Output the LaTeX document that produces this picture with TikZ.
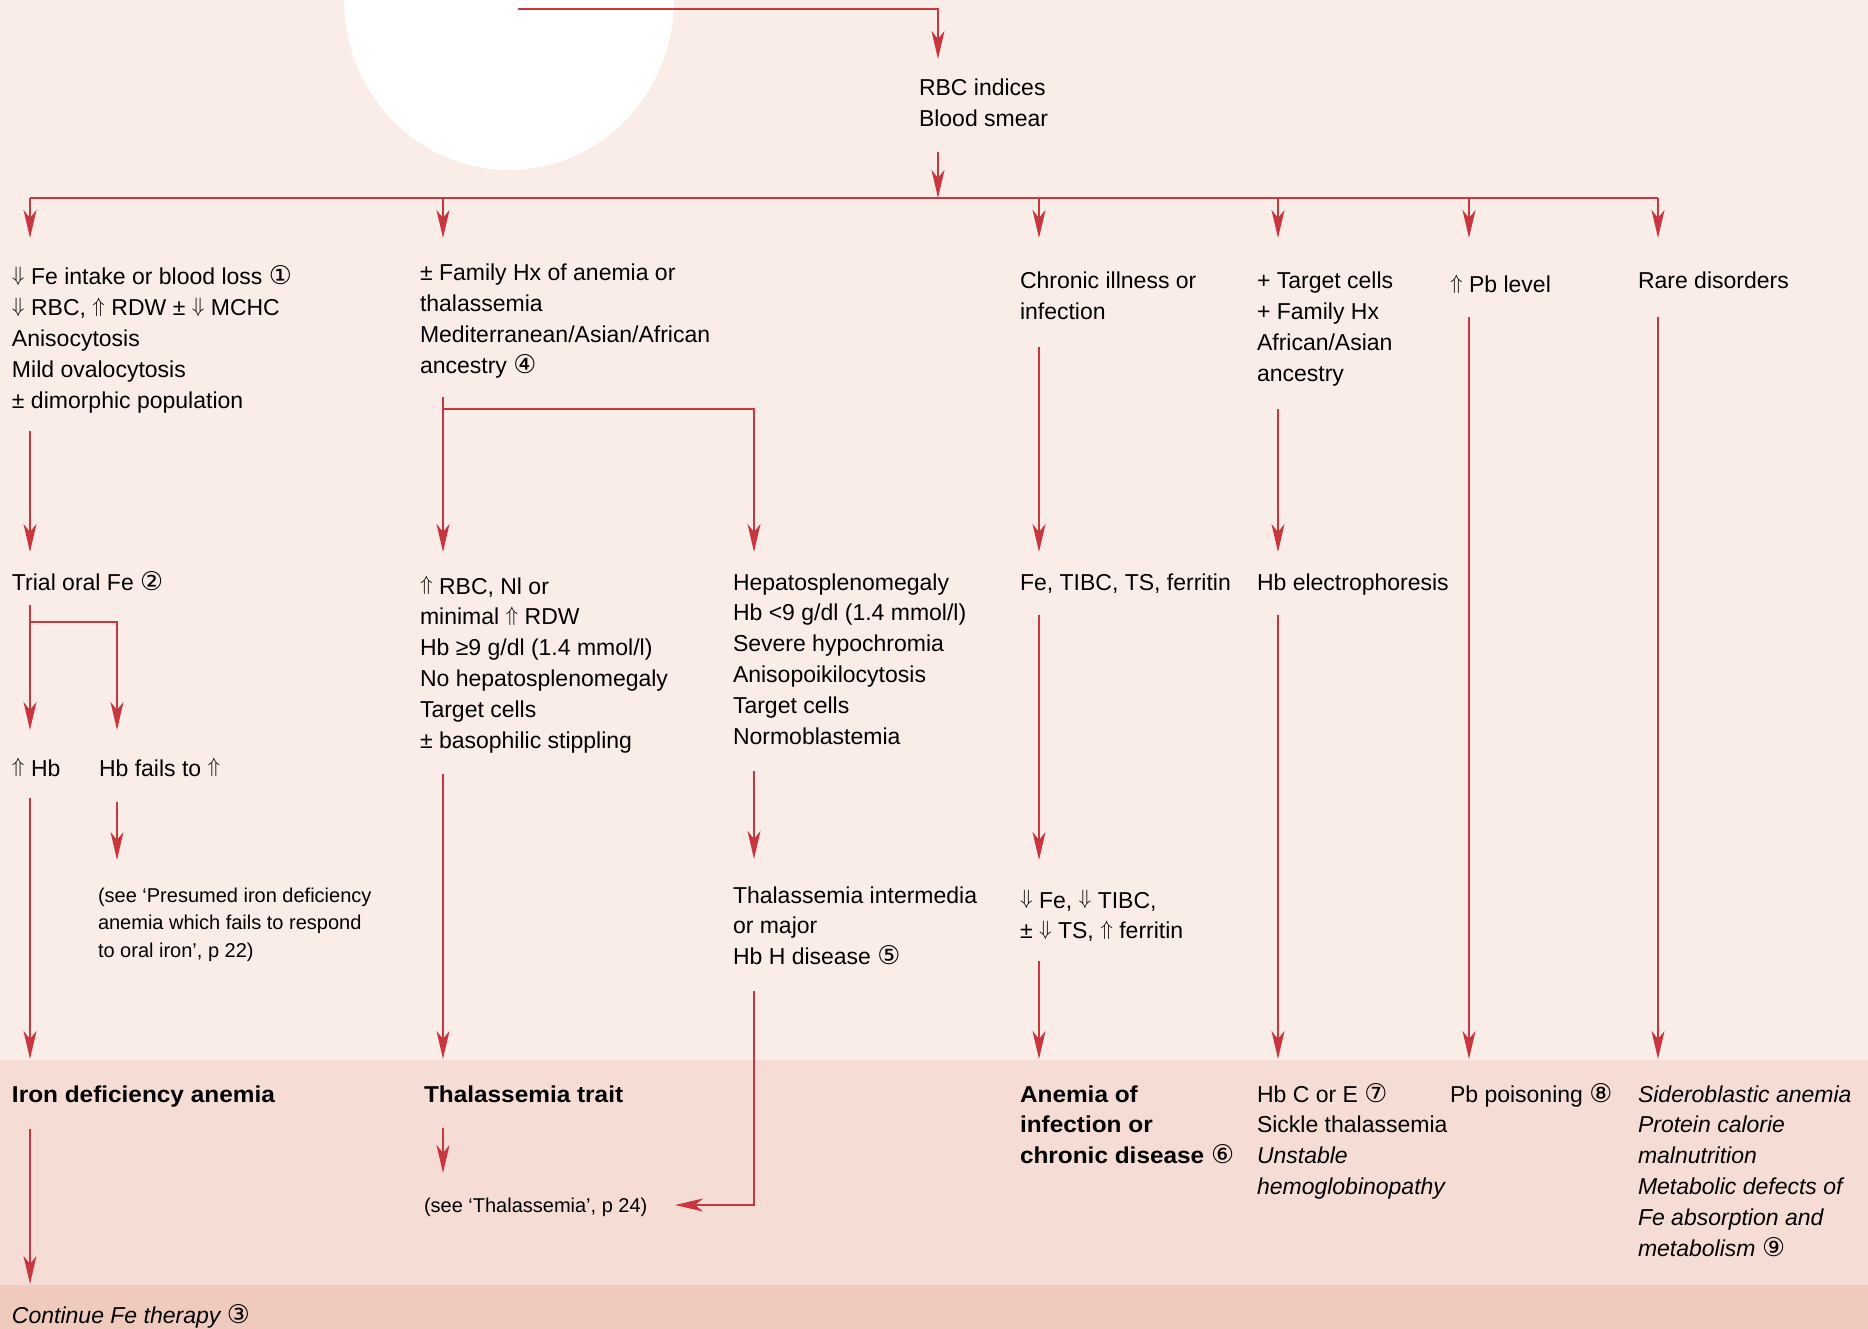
\documentclass[tikz,border=0pt]{standalone}
\usepackage{fontspec}
\setmainfont{Liberation Sans}
\newfontfamily\circf{DejaVu Sans}[Scale=1.12]
\newfontfamily\boldw{Liberation Sans}[FakeStretch=1.06]
\usetikzlibrary{arrows.meta}
\definecolor{bgtop}{HTML}{FAECE7}
\definecolor{bgmid}{HTML}{F5DCD4}
\definecolor{bgbot}{HTML}{EFCABD}
\definecolor{redl}{HTML}{C8373F}
\newcommand{\fr}{\rule{0pt}{25pt}}
\newcommand{\up}{\raisebox{3.6pt}{\fontsize{20.74}{20}\selectfont$\Uparrow$}}
\newcommand{\dn}{\raisebox{3.6pt}{\fontsize{20.74}{20}\selectfont$\Downarrow$}}
\newcommand{\cn}[1]{{\circf\mdseries\upshape #1}}
\begin{document}
\begin{tikzpicture}[x=1pt,y=-1pt,
  txt/.style={inner sep=0pt, outer sep=0pt, anchor=north west, yshift=25pt, align=left,
    font=\fontsize{23}{30.8}\selectfont},
  sml/.style={txt, font=\fontsize{20}{27.5}\selectfont},
  bld/.style={txt, font=\fontsize{23}{30.8}\selectfont\boldw\bfseries},
  itl/.style={txt, font=\fontsize{23}{30.8}\selectfont\itshape},
  ln/.style={draw=redl, line width=2pt},
  arr/.style={ln, -{Stealth[length=28pt,width=13pt,inset=8pt]}}]
\useasboundingbox (0,0) rectangle (1868,1329);
\fill[bgtop] (0,0) rectangle (1868,1060);
\fill[bgmid] (0,1060) rectangle (1868,1285);
\fill[bgbot] (0,1285) rectangle (1868,1329);
\fill[white] (509,0) ellipse [x radius=165pt, y radius=170pt];

% texts
\node[txt] (rbc) at (919,96) {\fr RBC indices\\Blood smear};
\node[txt] (c1) at (12,285) {\fr\dn{} Fe intake or blood loss \cn{①}\\\dn{} RBC, \up{} RDW ± \dn{} MCHC\\Anisocytosis\\Mild ovalocytosis\\± dimorphic population};
\node[txt] (c2) at (420,281) {\fr± Family Hx of anemia or\\thalassemia\\Mediterranean/Asian/African\\ancestry \cn{④}};
\node[txt] (c3) at (1020,289) {\fr Chronic illness or\\infection};
\node[txt] (c4) at (1257,289) {\fr+ Target cells\\+ Family Hx\\African/Asian\\ancestry};
\node[txt] (c5) at (1450,293) {\fr\up{} Pb level};
\node[txt] (c6) at (1638,289) {\fr Rare disorders};

\node[txt] (trial) at (12,590) {\fr Trial oral Fe \cn{②}};
\node[txt] (tt) at (420,594) {\fr\up{} RBC, Nl or\\minimal \up{} RDW\\Hb ≥9 g/dl (1.4 mmol/l)\\No hepatosplenomegaly\\Target cells\\± basophilic stippling};
\node[txt] (hep) at (733,590) {\fr Hepatosplenomegaly\\Hb <9 g/dl (1.4 mmol/l)\\Severe hypochromia\\Anisopoikilocytosis\\Target cells\\Normoblastemia};
\node[txt] (fet) at (1020,590) {\fr Fe, TIBC, TS, ferritin};
\node[txt] (hbe) at (1257,590) {\fr Hb electrophoresis};

\node[txt] (uphb) at (12,776) {\fr\up{} Hb};
\node[txt] (fails) at (99,776) {\fr Hb fails to \up};
\node[sml] (see1) at (98,902) {\fr(see ‘Presumed iron deficiency\\anemia which fails to respond\\to oral iron’, p 22)};
\node[txt] (thim) at (733,903) {\fr Thalassemia intermedia\\or major\\Hb H disease \cn{⑤}};
\node[txt] (dnfe) at (1020,908) {\fr\dn{} Fe, \dn{} TIBC,\\± \dn{} TS, \up{} ferritin};

\node[bld] (ida) at (12,1102) {\fr Iron deficiency anemia};
\node[bld] (trait) at (424,1102) {\fr Thalassemia trait};
\node[sml] (see2) at (424,1212) {\fr(see ‘Thalassemia’, p 24)};
\node[bld] (aoi) at (1020,1102) {\fr Anemia of\\infection or\\chronic disease \cn{⑥}};
\node[txt] (hbc) at (1257,1102) {\fr Hb C or E \cn{⑦}\\Sickle thalassemia\\\textit{Unstable}\\\textit{hemoglobinopathy}};
\node[txt] (pbp) at (1450,1102) {\fr Pb poisoning \cn{⑧}};
\node[itl] (rare) at (1638,1102) {\fr Sideroblastic anemia\\Protein calorie\\malnutrition\\Metabolic defects of\\Fe absorption and\\metabolism \cn{⑨}};
\node[itl] (cont) at (12,1323) {\fr Continue Fe therapy \cn{③}};

% connector points
\coordinate (top0) at (518,9);
\coordinate (topc) at (938,9);
\coordinate (rbcin) at (938,59);
\coordinate (rbcout) at (938,152);
\coordinate (bus) at (938,198);
\coordinate (busL) at (30,198);
\coordinate (busR) at (1658,198);

% connectors
\draw[arr] (top0) -- (topc) -- (rbcin);
\draw[arr] (rbcout) -- (bus);
\draw[ln] (busL) -- (busR);
\foreach \x in {30,443,1039,1278,1469,1658} \draw[arr] (\x,198) -- (\x,238);

\draw[arr] (30,431) -- (30,552);
\draw[arr] (443,397) -- (443,552);
\draw[arr] (443,409) -- (754,409) -- (754,552);
\draw[arr] (1039,347) -- (1039,552);
\draw[arr] (1278,409) -- (1278,552);
\draw[arr] (1469,317) -- (1469,1059);
\draw[arr] (1658,317) -- (1658,1059);

\draw[arr] (30,605) -- (30,730);
\draw[arr] (30,622) -- (117,622) -- (117,730);
\draw[arr] (443,774) -- (443,1059);
\draw[arr] (754,771) -- (754,859);
\draw[arr] (1039,615) -- (1039,860);
\draw[arr] (1278,615) -- (1278,1059);

\draw[arr] (30,798) -- (30,1059);
\draw[arr] (117,802) -- (117,860);
\draw[arr] (754,991) -- (754,1205) -- (675,1205);
\draw[arr] (1039,961) -- (1039,1059);

\draw[arr] (30,1129) -- (30,1284);
\draw[arr] (443,1128) -- (443,1173);
\end{tikzpicture}
\end{document}
